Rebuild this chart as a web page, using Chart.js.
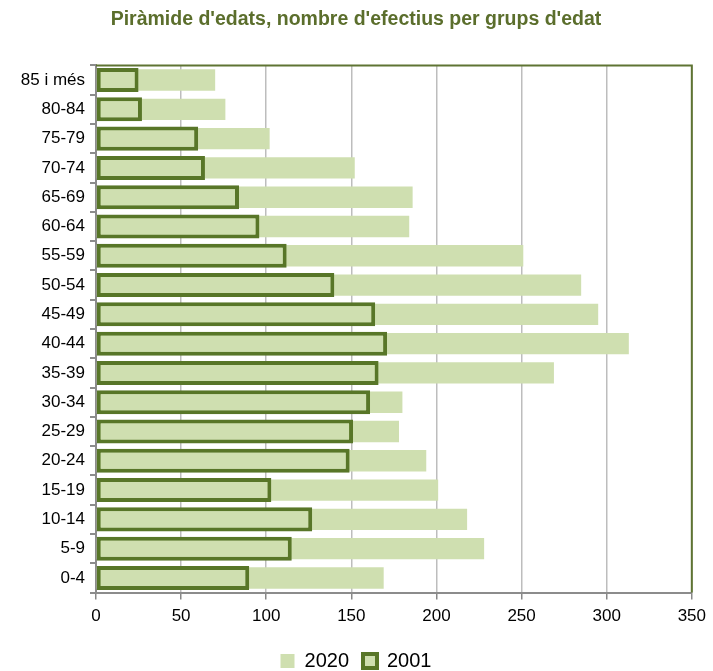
<!DOCTYPE html>
<html>
<head>
<meta charset="utf-8">
<script src="https://cdn.jsdelivr.net/npm/chart.js@4"></script>
<style>
  html, body { margin: 0; padding: 0; background: #fff; }
  #wrap { width: 713px; height: 671px; }
</style>
</head>
<body>
<div id="wrap"><canvas id="piramide"></canvas></div>
<script>
const grups = ["85 i més", "80-84", "75-79", "70-74", "65-69", "60-64", "55-59", "50-54", "45-49",
  "40-44", "35-39", "30-34", "25-29", "20-24", "15-19", "10-14", "5-9", "0-4"];
const efectius2020 = [70, 76, 102, 152, 186, 184, 251, 285, 295, 313, 269, 180, 178, 194, 201, 218, 228, 169];
const efectius2001 = [25, 27, 60, 64, 84, 96, 112, 140, 164, 171, 166, 161, 151, 149, 103, 127, 115, 90];
const ticksX = [0, 50, 100, 150, 200, 250, 300, 350];

const verdClar = "#cfdfb0";
const verdFosc = "#587628";
const fontEixos = "'Liberation Sans', Arial, sans-serif";

// vora verda a dalt i a la dreta de l'àrea del gràfic
const voraPlugin = {
  id: "vora",
  afterDraw(chart) {
    const { ctx, chartArea: a } = chart;
    ctx.save();
    ctx.strokeStyle = "#5f7433";
    ctx.lineWidth = 2;
    ctx.beginPath();
    ctx.moveTo(a.left, a.top);
    ctx.lineTo(a.right, a.top);
    ctx.lineTo(a.right, a.bottom);
    ctx.stroke();
    ctx.restore();
  },
};

const ctx = document.getElementById("piramide");

new Chart(ctx, {
  type: "bar",
  plugins: [voraPlugin],
  data: {
    labels: grups,
    datasets: [
      {
        label: "2020",
        data: efectius2020,
        backgroundColor: verdClar,
        borderWidth: 0,
        barPercentage: 0.73,
        categoryPercentage: 1,
        grouped: false,
        order: 2,
      },
      {
        label: "2001",
        data: efectius2001,
        backgroundColor: verdClar,
        borderColor: verdFosc,
        borderWidth: 4,
        borderSkipped: false,
        barPercentage: 0.82,
        categoryPercentage: 1,
        grouped: false,
        order: 1,
      },
    ],
  },
  options: {
    indexAxis: "y",
    responsive: true,
    maintainAspectRatio: false,
    animation: false,
    layout: {
      padding: { left: 20, right: 21, top: 0, bottom: -10 },
    },
    plugins: {
      title: {
        display: true,
        text: "Piràmide d'edats, nombre d'efectius per grups d'edat",
        color: "#5b6e2c",
        font: { family: "'Liberation Sans', Arial, sans-serif", size: 19.5, weight: "bold" },
        padding: { top: 8, bottom: 34 },
      },
      legend: {
        position: "bottom",
        labels: {
          color: "#000",
          boxWidth: 14,
          boxHeight: 14,
          padding: 14,
          font: { family: fontEixos, size: 20 },
          sort: (a, b) => a.datasetIndex - b.datasetIndex,
        },
      },
      tooltip: { enabled: false },
    },
    scales: {
      x: {
        min: 0,
        max: 350,
        afterBuildTicks(scale) {
          scale.ticks = ticksX.map((v) => ({ value: v }));
        },
        afterFit(scale) {
          scale.height += 3;
        },
        ticks: {
          color: "#000",
          padding: 7,
          font: { family: fontEixos, size: 17 },
        },
        grid: {
          color: "#bdbdbd",
          lineWidth: 1.5,
          tickLength: 7,
          tickColor: "#888",
        },
        border: { color: "#8c8c8c", width: 2 },
      },
      y: {
        afterFit(scale) {
          scale.width = 76;
        },
        ticks: {
          color: "#000",
          padding: 5,
          font: { family: fontEixos, size: 17 },
        },
        grid: {
          drawOnChartArea: false,
          offset: true,
          tickLength: 6,
          color: "#8c8c8c",
          lineWidth: 2,
        },
        border: { color: "#8c8c8c", width: 2 },
      },
    },
  },
});
</script>
</body>
</html>
